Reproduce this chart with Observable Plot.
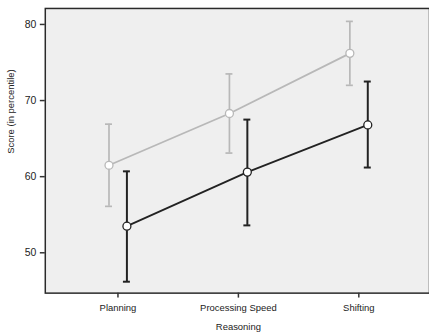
<!DOCTYPE html>
<html>
<head>
<meta charset="utf-8">
<script src="https://cdn.jsdelivr.net/npm/d3@7"></script>
<script src="https://cdn.jsdelivr.net/npm/@observablehq/plot@0.6"></script>
<style>
  html, body { margin: 0; padding: 0; background: #fff; overflow: hidden; }
  #chart { width: 429px; height: 336px; overflow: hidden; }
  #chart svg { display: block; }
</style>
</head>
<body>
<div id="chart"></div>
<script>
// Reasoning domains on the x axis
const domains = ["Planning", "Processing Speed", "Shifting"];

// Group A (light grey): mean score and error bar limits
const greyMean = [61.5, 68.3, 76.2];
const greyLow  = [56.1, 63.1, 72.0];
const greyHigh = [66.9, 73.5, 80.4];

// Group B (dark): mean score and error bar limits
const darkMean = [53.5, 60.6, 66.8];
const darkLow  = [46.2, 53.6, 61.2];
const darkHigh = [60.7, 67.5, 72.5];

const yTicks = [50, 60, 70, 80];

const toRows = (mean, low, high) =>
  domains.map((d, i) => ({domain: d, mean: mean[i], low: low[i], high: high[i]}));

const grey = toRows(greyMean, greyLow, greyHigh);
const dark = toRows(darkMean, darkLow, darkHigh);

// narrow bands so that error-bar caps are ~7px wide around each band centre
const capInset = 2.5;

function seriesMarks(rows, color, dx, w) {
  return [
    Plot.ruleX(rows, {x: "domain", y1: "low", y2: "high", stroke: color, strokeWidth: w, dx}),
    Plot.tickY(rows, {x: "domain", y: "low", stroke: color, strokeWidth: w, insetLeft: capInset, insetRight: capInset, dx}),
    Plot.tickY(rows, {x: "domain", y: "high", stroke: color, strokeWidth: w, insetLeft: capInset, insetRight: capInset, dx}),
    Plot.line(rows, {x: "domain", y: "mean", stroke: color, strokeWidth: 1.8, dx}),
    Plot.dot(rows, {x: "domain", y: "mean", r: 4, fill: "white", stroke: color, strokeWidth: 1.3, dx})
  ];
}

// the svg runs 2px past the window so the frame's right edge stays hidden
const chart = Plot.plot({
  width: 431,
  height: 336,
  marginLeft: 45,
  marginRight: 0,
  marginTop: 8,
  marginBottom: 42,
  style: {fontFamily: "'Liberation Sans', Arial, sans-serif", fontSize: "10px", color: "#222", background: "white"},
  x: {type: "band", domain: domains, range: [47, 431], paddingInner: 0.9, paddingOuter: 0.534, label: null},
  y: {domain: [44.7, 82.1], label: null},
  marks: [
    Plot.frame({fill: "#efefef", stroke: "#2a2a2a", strokeWidth: 1.5}),
    Plot.axisY({ticks: yTicks, tickSize: 5, tickPadding: 4, stroke: "#333", strokeWidth: 1.5, fontSize: 10.5, label: null}),
    Plot.axisX({tickSize: 5, tickPadding: 6, stroke: "#333", strokeWidth: 1.5, fontSize: 9.5, label: null}),
    ...seriesMarks(grey, "#b8b8b8", -9, 1.7),
    ...seriesMarks(dark, "#222222", 9, 2),
    Plot.text(["Reasoning"], {frameAnchor: "bottom", dx: 1, dy: 37, fontSize: 9.5, fill: "#222"}),
    Plot.text(["Score (in percentile)"], {frameAnchor: "left", dx: -34, dy: 3, rotate: -90, fontSize: 9.5, fill: "#222"})
  ]
});

document.getElementById("chart").appendChild(chart);
</script>
</body>
</html>
